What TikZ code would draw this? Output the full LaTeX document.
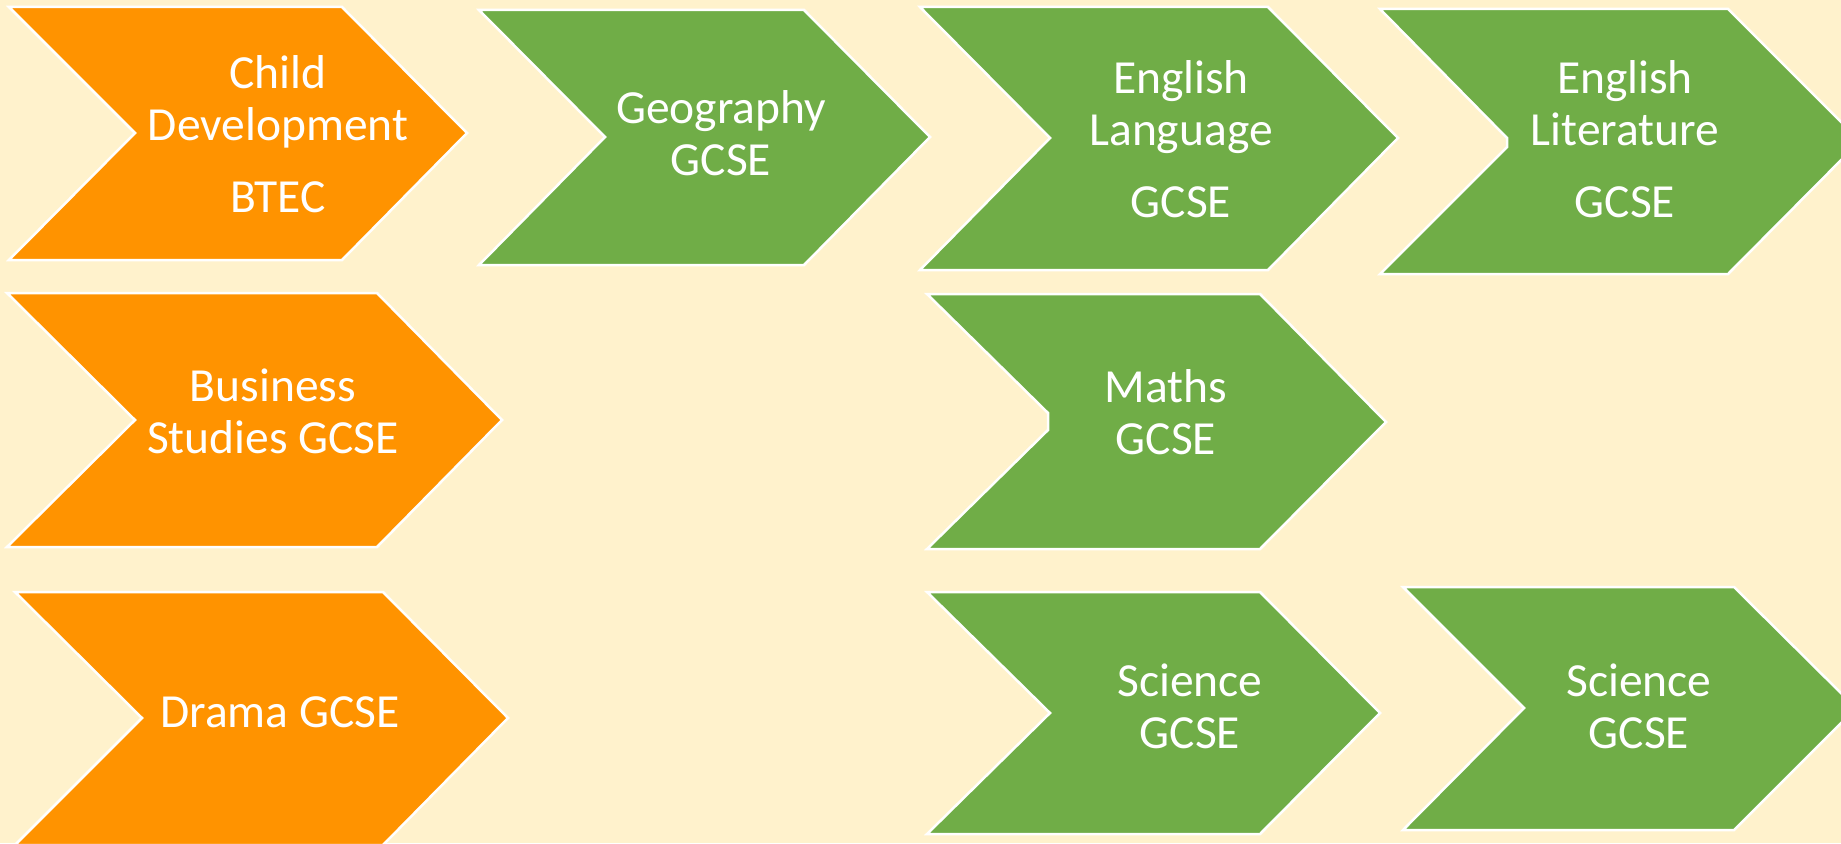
\documentclass[tikz,border=0pt]{standalone}
\usepackage{fontspec}
\setmainfont{Carlito}
\definecolor{bg}{RGB}{255,242,204}
\definecolor{org}{RGB}{255,147,0}
\definecolor{grn}{RGB}{112,173,71}
\tikzset{
  chev/.style={draw=white, line width=2.5pt, line join=miter},
  orchev/.style={chev, fill=org},
  grchev/.style={chev, fill=grn},
  lbl/.style={text=white, font=\fontsize{47.5}{52}\selectfont, align=center, inner sep=0pt, anchor=base}
}
\begin{document}
\begin{tikzpicture}[x=1pt,y=-1pt]
\fill[bg] (0,0) rectangle (1841,843);
\useasboundingbox (0,0) rectangle (1841,843);
\clip (0,0) rectangle (1841,843);
% orange column
\path[orchev] (9,7) -- (342,7) -- (467,133) -- (342,260) -- (9,260) -- (135,133) -- cycle;
\path[orchev] (7,293) -- (377,293) -- (502,420) -- (377,547) -- (7,547) -- (135,420) -- cycle;
\path[orchev] (15,592) -- (383,592) -- (508,718) -- (383,845) -- (15,845) -- (142,718) -- cycle;
% green
\path[grchev] (479,10) -- (804,10) -- (930,137) -- (804,265) -- (479,265) -- (605,137) -- cycle;
\path[grchev] (920,7) -- (1268,7) -- (1398,138) -- (1268,270) -- (920,270) -- (1050,138) -- cycle;
\path[grchev] (1380,9) -- (1728,9) -- (1860,141) -- (1728,274) -- (1380,274) -- (1507,147) -- (1507,138) -- cycle;
\path[grchev] (927,294) -- (1260,294) -- (1386,422) -- (1260,549) -- (927,549) -- (1048,430) -- (1048,413) -- cycle;
\path[grchev] (927,592) -- (1260,592) -- (1380,713) -- (1260,834) -- (927,834) -- (1050,713) -- cycle;
\path[grchev] (1403,587) -- (1734,587) -- (1856,708) -- (1734,830) -- (1403,830) -- (1524,708) -- cycle;
% labels (anchored at the baseline of the last line)
\node[lbl] (child) at (278,212) {Child\\Development\\[20pt]BTEC};
\node[lbl] (bus) at (273,453) {Business\\Studies GCSE};
\node[lbl] (drama) at (280,727) {Drama GCSE};
\node[lbl] (geo) at (721,175) {Geography\\GCSE};
\node[lbl] (englang) at (1181,217) {English\\Language\\[20pt]GCSE};
\node[lbl] (englit) at (1625,217) {English\\Literature\\[20pt]GCSE};
\node[lbl] (maths) at (1166,454) {Maths\\GCSE};
\node[lbl] (sci1) at (1190,748) {Science\\GCSE};
\node[lbl] (sci2) at (1639,748) {Science\\GCSE};
\end{tikzpicture}
\end{document}
